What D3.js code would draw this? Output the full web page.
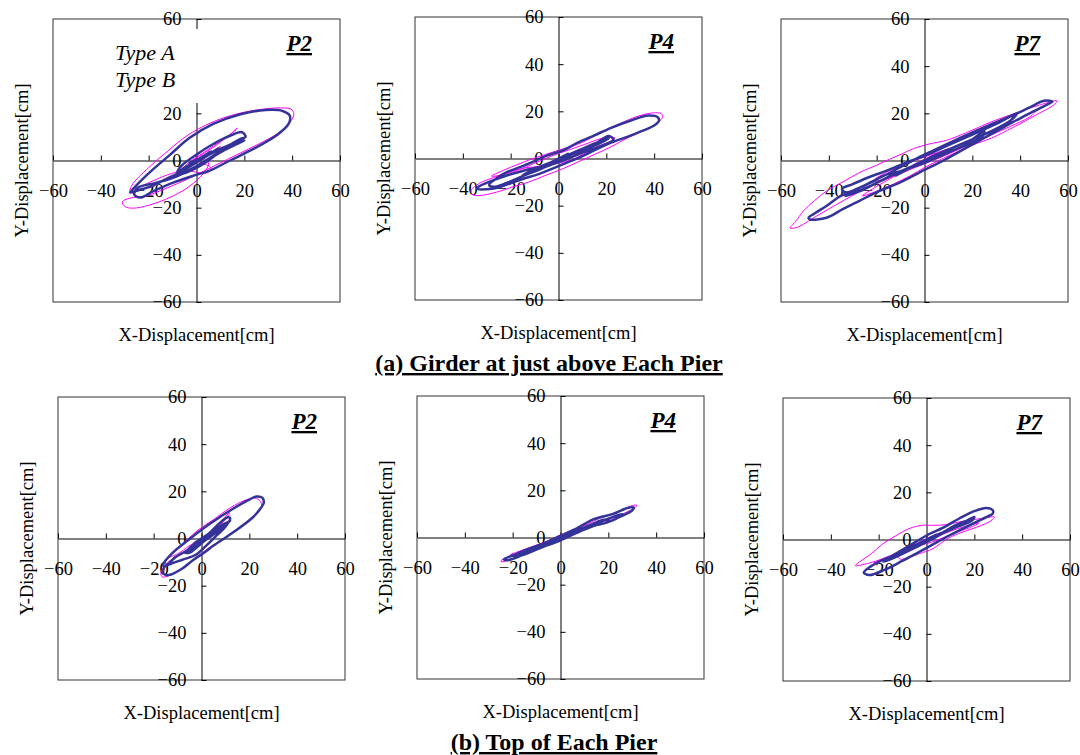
<!DOCTYPE html>
<html lang="en">
<head>
<meta charset="UTF-8">
<title>Displacement orbits</title>
<script src="https://d3js.org/d3.v7.min.js"></script>
<style>
  body { margin: 0; background: #fff; }
  svg text { font-family: "Liberation Serif", "Times New Roman", serif; fill: #000; }
</style>
</head>
<body>
<div id="chart"></div>
<script>
// axis ticks and labels
const ticks = [-60, -40, -20, 0, 20, 40, 60];
const pierNames = ["P2", "P4", "P7", "P2", "P4", "P7"];
const rowTitles = ["(a) Girder at just above Each Pier", "(b) Top of Each Pier"];
const legendNames = ["Type A", "Type B"];
const xTitle = "X-Displacement[cm]";
const yTitle = "Y-Displacement[cm]";

// orbits, [x, y] in cm  (A = blue, B = magenta)
const girderP2A = [[0,0],[3,2],[-3,-2],[6,4],[-5,-4],[9,5],[-7,-5],[-13,-8],[-19,-11],[-24,-12.5],[-27.5,-13.5],[-26,-11.5],[-19,-4.5],[-11,2.5],[-3,9.5],[7,15.5],[18,19.5],[29,21.4],[36,21],[39,19],[38.5,15.5],[33.5,10.7],[24,5],[14,0],[5.5,-4.3],[-1.5,-6.5],[-10,-9.5],[-18,-13],[-23.5,-15.7],[-26,-14.5],[-24.5,-11.5],[-17,-9.5],[-9,-7],[-1,-3],[7,2],[13,6],[18,9],[20.5,10],[19,12],[14,10.5],[7,7],[0,2.5],[-6,-2],[-8,-5],[-3,-4],[4,0],[11,4],[17,7],[20,8.5],[16,7.5],[8,4],[1,0],[-5,-3],[-8,-6],[-4,-5],[2,-2],[9,3],[14,6.5],[10,5],[3,1.5],[-3,-1],[0,0]];
const girderP2B = [[0,0],[4,2],[-3,-2],[7,4],[-5,-4],[10,6],[-6,-4],[-12,-6],[-19,-9],[-25,-12],[-28,-14],[-27,-10.5],[-20,-3],[-12,4],[-4,10.5],[6,16],[17,19.8],[28,21.8],[35,22.3],[39.5,21.8],[40.7,19.8],[39,16],[34,11.5],[26,7],[17,2.5],[9,-1.5],[3,-4.5],[-4,-8],[-12,-11.5],[-21,-15],[-28,-16],[-31,-17.5],[-30,-19.5],[-26.5,-20.2],[-20,-19],[-13,-16.5],[-6,-13],[0,-8.5],[4,-4],[5,-1],[1,1],[-3,-1],[3,3],[9,7],[14,11],[17,13.8],[16,12.5],[11,9],[4,4],[-2,0],[-5,-3],[0,-5],[5,-5],[6,-3],[2,-1],[0,0]];

const girderP4A = [[0,0],[4,2],[-4,-2],[8,3],[-8,-4],[12,5],[-6,-3],[-14,-5],[-21,-7],[-28,-9.5],[-33.5,-12],[-34,-12.9],[-30,-13],[-26,-12.5],[-20,-10.5],[-15,-8.7],[-8,-6.5],[-3,-4.5],[3,-2],[10,1],[16,4],[22,6.7],[29,9.3],[35,11.7],[40,14],[42,16],[41.5,17.5],[37.5,18.2],[30,16],[22,13],[15,9.8],[8,6.7],[2,3.5],[-5.5,1],[-11,-1.5],[-17,-4],[-22,-6],[-26,-8.5],[-29,-11.2],[-27,-12],[-22,-10.5],[-15,-7.5],[-8,-4.5],[0,-1],[8,3],[15,6],[21,9.5],[23,8],[17,5],[10,2.5],[3,-0.5],[-4,-3],[-10,-5.5],[-15,-7],[-10,-4.5],[-3,-1.5],[4,1.5],[12,5],[19,8],[21,8.5],[14,5],[6,2],[0,0]];
const girderP4B = [[0,0],[4,2],[-4,-2],[9,4],[-7,-3],[-14,-4],[-20,-5.5],[-27,-8],[-33,-10.5],[-36.5,-13.5],[-36,-15.3],[-33,-15.7],[-26,-14.3],[-19,-12],[-12.5,-10],[-5,-7],[1.5,-4.5],[8,-1.5],[15.3,1.8],[22,5],[29,8.8],[36,12],[41.7,15.4],[43.5,17.5],[43,19],[39,19.3],[32,17.5],[24,14],[16,10],[8,6],[0,3.5],[-6,1.5],[-12,-0.5],[-17,-2.5],[-23,-5],[-28,-7.5],[-24,-7],[-17,-5],[-10,-2],[-3,1],[4,3.5],[11,6],[18,8.5],[23.6,8.8],[22,7.4],[15,4.5],[9,1],[4,-1],[1,-0.5],[5,1.5],[10,2],[6,-0.5],[0,-2],[-5,-2.5],[0,0]];

const girderP7A = [[0,0],[5,2.5],[-5,-2.5],[10,4.5],[-10,-4.5],[-16,-6],[-22,-9],[-28,-12],[-35,-15],[-41,-19.3],[-46,-22.5],[-48.5,-24.3],[-47.8,-25],[-41,-24.3],[-34,-20.5],[-27,-17],[-19,-13],[-10.2,-9.3],[-2,-5],[6.6,-0.7],[15,4],[23.3,8.6],[32,13.5],[40,17.9],[46,21],[51,23.6],[53.5,25],[50,25.3],[44,22.5],[37.2,19.3],[29,15.8],[20.5,12.1],[12,8.2],[3.8,4.3],[-3,1],[-10.2,-2.9],[-18,-7],[-26.9,-11.4],[-33,-13.5],[-34.5,-12],[-30,-10],[-23,-7],[-15,-4],[-8,-1],[0,2],[10,6.5],[20,11],[30,15.5],[38.6,20],[36,17],[28,12.5],[20,9],[12,5.5],[4,2],[-4,-2],[-12,-5.5],[-20,-9.5],[-27,-13],[-33,-15],[-30,-14],[-23,-11],[-15,-7],[-6,-3],[3,1],[12,5.5],[20,9],[25,12.5],[24,10],[16,6],[8,2.5],[0,-1],[-8,-4],[-12,-6.5],[-6,-3],[0,0]];
const girderP7B = [[0,0],[5,3],[-5,-2],[10,5],[-4,-2],[-12,-6],[-22,-10.5],[-33.9,-17],[-45,-23.5],[-53.4,-28.4],[-56.2,-28.6],[-54,-26],[-50.6,-21.4],[-46,-17],[-40.9,-12.9],[-34,-9],[-26.9,-5],[-20,-2],[-15.8,0],[-9,3],[-4.6,5],[2,7],[9.3,8.6],[18,12],[27,16],[35,19],[42,21.5],[48,23.5],[55.4,25.3],[54,23.5],[47,19.5],[37,14],[28,9.5],[20,6.5],[8,1],[0,-3],[-6,-6.5],[-13,-10],[-20,-13],[-26,-15],[-20,-11],[-14,-7.5],[-8,-4],[0,0],[10,4.5],[20,9],[30,13.5],[40,18],[47,21.4],[44,18.5],[36,14.5],[26,10],[16,5.5],[6,1],[-4,-3],[-14,-7],[-22,-9],[-16,-5],[-8,-1.5],[0,1.5],[10,5],[18,8],[22,10],[16,6],[6,1.5],[0,0]];

const pierP2A = [[0,0],[3,2],[-3,-2],[6,4],[-5,-4],[9,6],[-6,-5],[-11,-8],[-15.5,-12],[-16,-11],[-12.2,-6.2],[-5.2,-0.4],[3.2,6],[13,12.5],[20,16.5],[23,17.8],[25.5,17.2],[26,15],[24.5,12.5],[21.4,8.9],[13,2.4],[5,-3],[1.8,-5.5],[-4,-9.5],[-8,-12.7],[-13.6,-15.5],[-15.8,-15],[-15.5,-12],[-13,-10.8],[-8,-9],[-2.4,-6.9],[2,-3],[6,1],[10,5],[12,8.5],[11,9],[7,6],[3,2],[-2,-2],[-7,-6],[-5,-6],[0,-2],[5,2],[10,6],[12,7.5],[8,5],[3,1],[-3,-3],[-6,-5.5],[-2,-3],[4,1],[9,5],[11,7],[6,4],[1,0],[-4,-3],[0,0]];
const pierP2B = [[0,0],[3,2],[-3,-2],[6,4],[-4,-4],[9,7],[-6,-5],[-11,-8],[-15,-11],[-17,-14.8],[-16.4,-16.3],[-13,-15.5],[-8,-12.5],[-2,-8],[3,-4],[8,-1],[14,3],[20,8],[24.5,12],[25,15],[23,17],[19,16.5],[12,13],[5,8],[-1,3.9],[-6,-0.5],[-11,-5],[-14,-8],[-10,-6.5],[-5,-3],[0,0],[5,4],[9,8],[11.6,11],[11,9],[7,5.5],[2,1.5],[-3,-2],[-6,-5],[-2,-3],[3,0.5],[0,0]];

const pierP4A = [[0,0],[4,1.5],[-4,-1.5],[8,3.5],[-8,-3.5],[12,5],[-12,-5],[-18,-7],[-23.7,-9.2],[-22,-9.6],[-16,-7.5],[-8,-4.3],[0,-1.2],[8,2.5],[14,5],[19.3,6.3],[25,8.8],[30,11.5],[30.6,12.7],[28,12.5],[22,10],[13.7,7.7],[7,4],[0,0.8],[-7,-2.5],[-14,-5],[-20,-7.8],[-15,-6.5],[-8,-3.5],[-1,-0.5],[6,2.5],[13,5.5],[18,7.5],[21,7],[26,10],[20,8],[13,5],[6,2],[-1,-1],[-8,-3.8],[-4,-2],[0,0]];
const pierP4B = [[0,0],[4,2],[-4,-1.5],[8,3],[-9,-4],[-16,-6],[-22,-8.5],[-25,-9.9],[-24.5,-10.3],[-19,-8.5],[-12,-5.5],[-4,-2],[4,1.5],[12,4.5],[20,7.5],[27,10.5],[31,12.5],[32,13.7],[30,13.5],[24,11],[16,8],[8,4],[0,1],[-8,-2.5],[-15,-5],[-21,-7.3],[-16,-6],[-8,-3],[0,0]];

const pierP7A = [[0,0],[4,2],[-4,-2],[8,3.5],[-8,-4],[-14.3,-6.9],[-20,-9.5],[-24,-11.9],[-26.2,-14],[-24,-15.1],[-17,-12.6],[-10,-9],[-4.5,-6.1],[2,-2.5],[9.5,1.7],[15,4.5],[20.7,7.4],[25,9.5],[27.7,11],[27.7,12.4],[24.9,13.4],[20,12],[13.7,8.9],[7,5],[0,1.7],[-7,-2.5],[-14.3,-6.9],[-18,-9.5],[-12,-7],[-5,-3.5],[3,0.5],[10,4.5],[16,7.5],[20,9.6],[19,8],[12,5],[5,2],[-2,-2],[-9,-5.5],[-13,-7.5],[-8,-5],[-1,-1.5],[6,2.5],[12,6],[17,8],[12,5.5],[4,1.5],[0,0]];
const pierP7B = [[0,0],[3,1.5],[-3,-1],[6,3],[-6,-3],[-12,-5.5],[-18,-8],[-24,-10],[-29.7,-11.1],[-28,-9.5],[-23,-6],[-18.5,-2],[-13,1.5],[-7.3,4.6],[-2,6],[3,6],[8,6.3],[14,7.5],[20,8.5],[25,9.2],[28.4,9.6],[27,8],[23,6],[19,4.5],[15,3.1],[9,0.5],[2.5,-4],[-3,-6],[-7.3,-7.6],[-11,-8.3],[-12,-6.5],[-9,-5],[-3,-2.5],[4,1],[10,3.5],[16,5.5],[22,7],[18,5],[11,2.5],[4,-0.5],[-4,-3],[-10,-5.5],[-16,-8],[-22,-10],[-16,-7.5],[-8,-3.5],[0,0]];

const seriesA = [girderP2A, girderP4A, girderP7A, pierP2A, pierP4A, pierP7A];
const seriesB = [girderP2B, girderP4B, girderP7B, pierP2B, pierP4B, pierP7B];

// layout
const W = 287, H = 283;
const frames = [[53, 19], [415, 17], [781, 19], [58, 397], [417, 396], [783, 398]];

const svg = d3.select("#chart").append("svg")
    .attr("width", 1080)
    .attr("height", 755);

const x = d3.scaleLinear().domain([-60, 60]).range([0, W]);
const y = d3.scaleLinear().domain([-60, 60]).range([H, 0]);

const line = d3.line()
    .x(d => x(d[0]))
    .y(d => y(d[1]))
    .curve(d3.curveCatmullRom.alpha(0.5));

frames.forEach((f, i) => {
    const g = svg.append("g").attr("transform", `translate(${f[0]},${f[1]})`);

    g.append("rect")
        .attr("width", W).attr("height", H)
        .attr("fill", "none").attr("stroke", "#333").attr("stroke-width", 1);

    // axes through the origin, ticks pointing inward like the original
    const xAxis = g.append("g")
        .attr("transform", `translate(0,${y(0)})`)
        .call(d3.axisBottom(x).tickValues(ticks).tickSizeInner(-5).tickSizeOuter(0).tickPadding(23));
    const yAxis = g.append("g")
        .attr("transform", `translate(${x(0)},0)`)
        .call(d3.axisLeft(y).tickValues(ticks).tickSizeInner(-5).tickSizeOuter(0).tickPadding(15));

    [xAxis, yAxis].forEach(a => {
        a.attr("font-family", null).attr("font-size", null);
        a.selectAll("text").style("font-size", "18.5px").attr("fill", "#000");
        a.selectAll("line, path").attr("stroke", "#000");
    });

    // legend box sits over the y axis in the first panel, as in the original
    if (i === 0) {
        yAxis.selectAll(".tick").filter(d => d === 40).select("text").remove(); // hidden by legend
        g.append("rect")
            .attr("x", 8).attr("y", 10)
            .attr("width", 150).attr("height", 74)
            .attr("fill", "#fff");
        legendNames.forEach((name, j) => {
            g.append("text")
                .attr("x", 62).attr("y", 41 + j * 27)
                .style("font-size", "22px").style("font-style", "italic")
                .text(name);
        });
    }

    // type B under type A
    g.append("path")
        .attr("d", line(seriesB[i]))
        .attr("fill", "none").attr("stroke", "#ff00ff").attr("stroke-width", 1);
    g.append("path")
        .attr("d", line(seriesA[i]))
        .attr("fill", "none").attr("stroke", "#333399").attr("stroke-width", 2.5)
        .attr("stroke-linejoin", "round");

    g.append("text")
        .attr("x", W - 28).attr("y", 32)
        .attr("text-anchor", "end")
        .style("font-size", "23px").style("font-weight", "bold").style("font-style", "italic")
        .style("text-decoration", "underline")
        .text(pierNames[i]);

    g.append("text")
        .attr("x", W / 2).attr("y", 322)
        .attr("text-anchor", "middle")
        .style("font-size", "18.5px")
        .text(xTitle);

    g.append("text")
        .attr("transform", `translate(-25,${H / 2}) rotate(-90)`)
        .attr("text-anchor", "middle")
        .style("font-size", "18.5px")
        .text(yTitle);
});

// row captions
[[549, 371], [554, 750]].forEach((p, j) => {
    svg.append("text")
        .attr("x", p[0]).attr("y", p[1])
        .attr("text-anchor", "middle")
        .style("font-size", "24px").style("font-weight", "bold")
        .style("text-decoration", "underline")
        .text(rowTitles[j]);
});
</script>
</body>
</html>
